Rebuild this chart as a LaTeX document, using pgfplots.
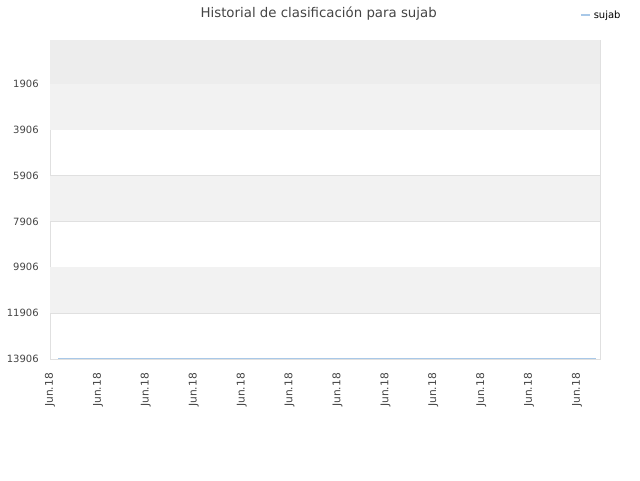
\documentclass[border=0pt]{standalone}
\usepackage{pgfplots}
\pgfplotsset{compat=1.18}
\usepackage{fontspec}
\setmainfont{DejaVu Sans}
\definecolor{bandA}{RGB}{237,237,237}
\definecolor{bandB}{RGB}{242,242,242}
\definecolor{gridc}{RGB}{224,224,224}
\definecolor{linec}{RGB}{168,200,232}
\definecolor{txt}{RGB}{68,68,68}

\begin{document}
\begin{tikzpicture}[x=1pt,y=1pt]
  \path[use as bounding box] (0,0) rectangle (480,360);
  \node[font=\fontsize{10}{12}\selectfont, text=txt] at (239,350) {Historial de clasificación para sujab};
  \begin{axis}[
      at={(37.5pt,90.75pt)}, anchor=south west,
      scale only axis,
      width=412.5pt, height=239.25pt,
      y dir=reverse,
      xmin=0, xmax=11.48,
      ymin=-7, ymax=13906,
      xtick={0,...,11},
      xticklabels={Jun.18,Jun.18,Jun.18,Jun.18,Jun.18,Jun.18,Jun.18,Jun.18,Jun.18,Jun.18,Jun.18,Jun.18},
      xticklabel style={rotate=90, anchor=east, font=\fontsize{8}{9}\selectfont, text=txt},
      xticklabel shift=7pt,
      ytick={1906,3906,5906,7906,9906,11906,13906},
      yticklabels={1906,3906,5906,7906,9906,11906,13906},
      yticklabel style={font=\fontsize{7.5}{9}\selectfont, text=txt},
      yticklabel shift=5pt,
      scaled y ticks=false,
      ymajorgrids, grid style={gridc, line width=0.6pt},
      major tick length=0pt,
      axis line style={gridc},
      legend style={at={(1.05,1.11)}, anchor=north east, draw=none, fill=none,
        font=\fontsize{7.5}{8}\selectfont, legend cell align=left},
      legend image code/.code={\draw[linec, line width=1.5pt] (0pt,0pt) -- (7pt,0pt);},
    ]
    \fill[bandA] (0,-7) rectangle (11.48,1906);
    \fill[bandB] (0,1906) rectangle (11.48,3906);
    \fill[bandB] (0,5906) rectangle (11.48,7906);
    \fill[bandB] (0,9906) rectangle (11.48,11906);
    \addplot[linec, line width=1pt] coordinates {
      (0.17,13870) (1,13870) (2,13870) (3,13870) (4,13870) (5,13870)
      (6,13870) (7,13870) (8,13870) (9,13870) (10,13870) (11,13870) (11.4,13870)
    };
    \addlegendentry{sujab}
  \end{axis}
\end{tikzpicture}
\end{document}
